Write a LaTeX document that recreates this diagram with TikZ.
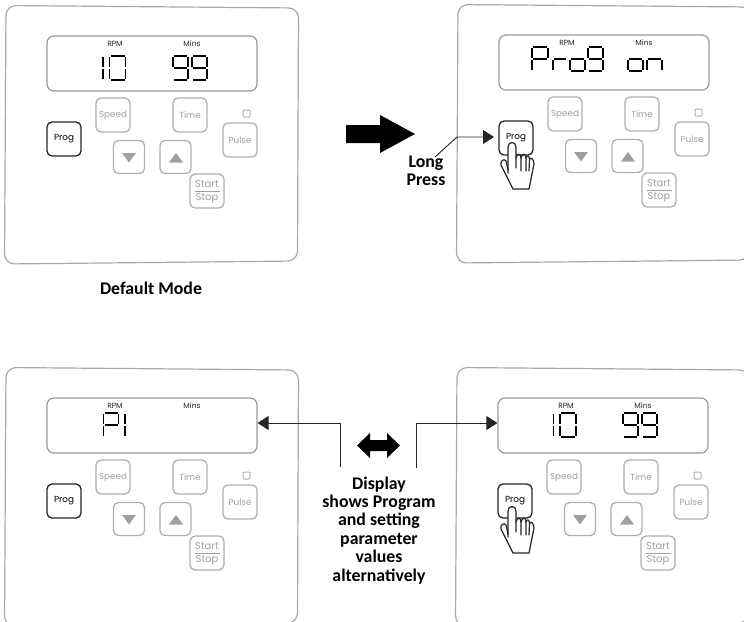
\documentclass[tikz,border=0pt]{standalone}
\usepackage{fontspec}
\setmainfont{Carlito}
\newfontfamily\btnfont{Poppins}
\usetikzlibrary{arrows.meta}
\definecolor{panelgray}{HTML}{A8A8A8}
\definecolor{dispgray}{HTML}{9A9A9A}
\definecolor{btngray}{HTML}{B0B0B0}
\definecolor{txtgray}{HTML}{A0A0A0}
\tikzset{
  outerbox/.style={draw=panelgray,line width=1.2pt,rounded corners=10pt},
  dispbox/.style={draw=dispgray,line width=1.2pt,rounded corners=7pt,minimum width=210pt,minimum height=55pt,inner sep=0pt},
  btn/.style={draw=btngray,line width=1.3pt,rounded corners=5pt,minimum width=34pt,minimum height=34pt,inner sep=0pt,text=txtgray,font=\btnfont\fontsize{8.8}{10}\selectfont},
  navbtn/.style={btn,minimum width=31pt,minimum height=33pt},
  progbtn/.style={btn,draw=black!85,text=black,font=\btnfont\fontsize{8.8}{10}\selectfont},
  tinylabel/.style={inner sep=0pt,text=black!85,font=\btnfont\fontsize{7.5}{9}\selectfont},
  stlabel/.style={inner sep=0pt,text=txtgray,font=\btnfont\fontsize{10}{11}\selectfont},
  segl/.style={line width=1.9pt,black,line cap=butt},
  conn/.style={line width=0.9pt,black!85,-{Triangle[length=11pt,width=14pt]}},
  boldnote/.style={inner sep=0pt,align=center,font=\bfseries\fontsize{17.8}{18.4}\selectfont},
  handline/.style={line width=1.2pt,black!85,line join=round,line cap=round}
}
\newcommand\sga{\draw[segl] (1,0) -- (\dW-1,0);}
\newcommand\sgb{\draw[segl] (\dW,1) -- (\dW,\dH/2-1);}
\newcommand\sgc{\draw[segl] (\dW,\dH/2+1) -- (\dW,\dH-1);}
\newcommand\sgd{\draw[segl] (1,\dH) -- (\dW-1,\dH);}
\newcommand\sge{\draw[segl] (0,\dH/2+1) -- (0,\dH-1);}
\newcommand\sgf{\draw[segl] (0,1) -- (0,\dH/2-1);}
\newcommand\sgg{\draw[segl] (1,\dH/2) -- (\dW-1,\dH/2);}
\newcommand\dig[5]{\begin{scope}[shift={(#1,#2)}]\def\dW{#3}\def\dH{#4}\foreach \s in {#5}{\csname sg\s\endcsname}\end{scope}}
\newcommand\panel[3]{%
 \begin{scope}[shift={(#2,#3)}]
  \draw[outerbox] (6,5.5) -- (298.5,8) -- (297.5,261) -- (4.5,264) -- cycle;
  \node[dispbox] (#1disp) at (152,63.5) {};
  \node[tinylabel] (#1rpm) at (115,44) {RPM};
  \node[tinylabel] (#1mins) at (192,44) {Mins};
  \node[btn] (#1speed) at (113,115) {Speed};
  \node[btn] (#1time) at (190,115) {Time};
  \node[progbtn] (#1prog) at (64,139) {Prog};
  \node[btn] (#1pulse) at (240,140) {Pulse};
  \node[draw=btngray,line width=1pt,rounded corners=1pt,minimum size=7pt,inner sep=0pt] (#1led) at (246.5,113.5) {};
  \node[navbtn] (#1down) at (129,157) {};
  \node[navbtn] (#1up) at (175.5,157) {};
  \fill[txtgray] (122,153) -- (136,153) -- (129,162.5) -- cycle;
  \fill[txtgray] (169,162.5) -- (183,162.5) -- (176,153) -- cycle;
  \node[btn] (#1start) at (207,191) {};
  \node[stlabel] (#1st) at (207,184) {Start};
  \node[stlabel] (#1sp) at (207,198.5) {Stop};
  \draw[txtgray,line width=0.8pt] (195,191.3) -- (219.5,191.3);
 \end{scope}}
\newcommand\hand[2]{%
 \begin{scope}[shift={(#1,#2)}]
  \fill[white] (-8,35) -- (-11,22) -- (-15,26) -- (-3,51) -- (13,51) -- (18,25) -- (14,19) -- (0,19) -- (0,8) .. controls (0,3) and (-8,3) .. (-8,8) -- cycle;
  \draw[handline] (-8,35) -- (-8,9) .. controls (-8,3) and (0,3) .. (0,9) -- (0,30);
  \draw[handline] (-8,32) -- (-10,23) .. controls (-12,20) and (-16,23) .. (-15,27) -- (-3,51) -- (13,51) -- (18,26) .. controls (18,21) and (14,18) .. (13.5,22) -- (13,33);
  \draw[handline] (0,20) .. controls (1,15) and (5,15) .. (5,20) -- (5,33);
  \draw[handline] (5,20) .. controls (6,15) and (10,15) .. (10,20) -- (10,33);
  \draw[handline] (10,20) .. controls (11,17) and (13,17) .. (13.5,21);
 \end{scope}}
\begin{document}
\begin{tikzpicture}[x=1pt,y=-1pt]
\useasboundingbox (0,0) rectangle (744,621);
\clip (0,0) rectangle (744,621);
\fill[white] (0,0) rectangle (744,621);
\panel{a}{0}{0}
\panel{b}{452}{-1}
\panel{c}{0}{362}
\panel{d}{451}{362}
\fill[white] (730,610) rectangle (744,621);
% panel a digits
\dig{103}{56}{0}{24}{b,c}
\dig{109.5}{56}{16}{24}{a,b,c,d,e,f}
\dig{173}{56}{15}{24}{a,b,c,d,f,g}
\dig{192}{56}{15}{24}{a,b,c,d,f,g}
% panel b digits
\dig{532}{47}{16}{24}{a,b,e,f,g}
\dig{553}{47}{14}{24}{e,g}
\dig{570}{47}{15}{24}{c,d,e,g}
\dig{588}{47}{15}{24}{a,b,c,d,f,g}
\dig{628}{47}{15}{24}{c,d,e,g}
\dig{647}{47}{15}{24}{c,e,g}
% panel c digits
\dig{103.5}{413}{15}{23.5}{a,b,e,f,g}
\dig{125}{413}{0}{23.5}{b,c}
% panel d digits
\dig{553.5}{413}{0}{24}{b,c}
\dig{560}{413}{16}{24}{a,b,c,d,e,f}
\dig{623}{413}{15}{24}{a,b,c,d,f,g}
\dig{642}{413}{15}{24}{a,b,c,d,f,g}
% hands
\hand{516}{138}
\hand{516}{502}
% texts
\node[boldnote] (defmode) at (151,288) {Default Mode};
\node[boldnote] (longpress) at (426,170.5) {Long\\Press};
\node[boldnote,anchor=north] (note) at (379,476.5) {Display\\shows Program\\and setting\\parameter\\values\\alternatively};
% block arrows
\fill[black] (346,125) -- (380,125) -- (380,115) -- (415,134) -- (380,153) -- (380,143) -- (346,143) -- cycle;
\fill[black] (357,445.5) -- (370,433) -- (370,440) -- (387,440) -- (387,433) -- (400,445.5) -- (387,458) -- (387,451) -- (370,451) -- (370,458) -- cycle;
% connectors
\coordinate (lpelbow) at (457,137);
\coordinate (lpstart) at (435,157);
\coordinate (lpend) at (494,137);
\draw[conn] (lpstart) -- (lpelbow) -- (lpend);
\coordinate (lelbow) at (340,423);
\coordinate (lstart) at (340,467);
\coordinate (relbow) at (416,423);
\coordinate (rstart) at (416,468);
\draw[conn] (lstart) -- (lelbow) -- (cdisp.east |- lelbow);
\draw[conn] (rstart) -- (relbow) -- (ddisp.west |- relbow);
\end{tikzpicture}
\end{document}
